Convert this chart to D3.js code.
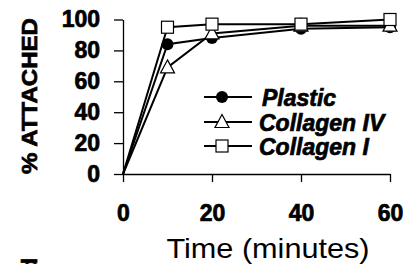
<!DOCTYPE html>
<html>
<head>
<meta charset="utf-8">
<script src="https://cdn.jsdelivr.net/npm/d3@7"></script>
<style>
	body { margin: 0; background: #fff; }
	svg { display: block; font-family: "Liberation Sans", Arial, sans-serif; }
	.heavy { stroke: #000; stroke-width: 0.7px; paint-order: stroke; }
</style>
</head>
<body>
<div id="chart"></div>
<script>
const times = [0, 10, 20, 40, 60]
const plastic = [0, 84, 88, 94, 95]
const collagenIV = [0, 69, 91, 96, 96]
const collagenI = [0, 95, 97, 97, 100]
const seriesNames = ["Plastic", "Collagen IV", "Collagen I"]
const xTicks = [0, 20, 40, 60]
const yTicks = [0, 20, 40, 60, 80, 100]

const width = 408, height = 264

const svg = d3.select("#chart").append("svg")
	.attr("width", width)
	.attr("height", height)

const x = d3.scaleLinear().domain([0, 60]).range([123, 390])
const y = d3.scaleLinear().domain([0, 100]).range([174, 19.5])

// axes
const yAxis = svg.append("g")
	.attr("transform", `translate(${x(0)},0)`)
	.call(d3.axisLeft(y).tickValues(yTicks).tickSize(9).tickSizeOuter(0).tickPadding(14))
yAxis.selectAll("text")
	.attr("class", "heavy")
	.style("font-size", "23px").style("font-weight", "bold").attr("fill", "#000")
	.attr("font-family", null)

const xAxis = svg.append("g")
	.attr("transform", `translate(0,${y(0)})`)
	.call(d3.axisBottom(x).tickValues(xTicks).tickSize(8).tickSizeOuter(0))
xAxis.selectAll("text")
	.attr("class", "heavy")
	.attr("y", 47).attr("dy", null)
	.style("font-size", "23px").style("font-weight", "bold").attr("fill", "#000")
	.attr("font-family", null)

svg.selectAll(".domain, .tick line").attr("stroke", "#000").attr("stroke-width", 1.3)

// axis titles
svg.append("text")
	.attr("class", "heavy")
	.attr("transform", "translate(37,96) rotate(-90)")
	.attr("text-anchor", "middle")
	.style("font-size", "22px").style("font-weight", "bold")
	.attr("textLength", 156).attr("lengthAdjust", "spacingAndGlyphs")
	.text("% ATTACHED")

svg.append("text")
	.attr("x", 268).attr("y", 258)
	.attr("text-anchor", "middle")
	.style("font-size", "28px")
	.attr("textLength", 203).attr("lengthAdjust", "spacingAndGlyphs")
	.text("Time (minutes)")

// clipped label from the panel below
svg.append("text")
	.attr("class", "heavy")
	.attr("transform", "translate(37,258) rotate(-90)")
	.attr("text-anchor", "end")
	.style("font-size", "22px").style("font-weight", "bold")
	.text("Spread")

// series
const series = [
	{ name: seriesNames[0], values: plastic, marker: "circle" },
	{ name: seriesNames[1], values: collagenIV, marker: "triangle" },
	{ name: seriesNames[2], values: collagenI, marker: "square" }
]

const line = d3.line()
	.x((d, i) => x(times[i]))
	.y(d => y(d))

function drawMarker(g, type) {
	if (type === "circle") {
		g.append("circle").attr("r", 6).attr("fill", "#000")
	} else if (type === "triangle") {
		g.append("path")
			.attr("d", "M0,-7.5L7,5.5L-7,5.5Z")
			.attr("fill", "#fff").attr("stroke", "#000").attr("stroke-width", 1.2)
	} else {
		g.append("rect")
			.attr("x", -6).attr("y", -6).attr("width", 12).attr("height", 12)
			.attr("fill", "#fff").attr("stroke", "#000").attr("stroke-width", 1.2)
	}
}

series.forEach(s => {
	svg.append("path")
		.datum(s.values)
		.attr("d", line)
		.attr("fill", "none")
		.attr("stroke", "#000")
		.attr("stroke-width", 2)
})

series.forEach(s => {
	s.values.forEach((v, i) => {
		if (i === 0) return
		const g = svg.append("g").attr("transform", `translate(${x(times[i])},${y(v)})`)
		drawMarker(g, s.marker)
	})
})

// legend
const legendY = [97, 122, 146]
series.forEach((s, i) => {
	const g = svg.append("g").attr("transform", `translate(0,${legendY[i]})`)
	g.append("line")
		.attr("x1", 204).attr("x2", 252)
		.attr("stroke", "#000").attr("stroke-width", 2)
	const m = g.append("g").attr("transform", "translate(222,0)")
	drawMarker(m, s.marker)
	g.append("text")
		.attr("class", "heavy")
		.attr("x", i === 0 ? 262 : 259).attr("y", 8.5)
		.style("font-size", "23px").style("font-weight", "bold").style("font-style", "italic")
		.text(s.name)
})
</script>
</body>
</html>
